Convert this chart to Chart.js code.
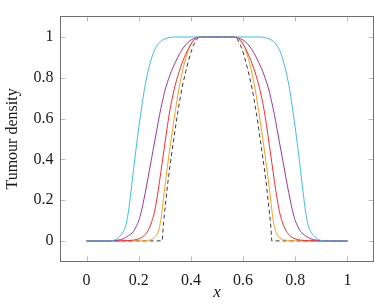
<!DOCTYPE html>
<html>
<head>
<meta charset="utf-8">
<script src="https://cdn.jsdelivr.net/npm/chart.js@4/dist/chart.umd.min.js"></script>
<style>
html,body{margin:0;padding:0;background:#fff;}
#wrap{width:374px;height:303px;}
</style>
</head>
<body>
<div id="wrap"><canvas id="c" width="374" height="303"></canvas></div>
<script>
// ---- data ----
const xTicks = [0, 0.2, 0.4, 0.6, 0.8, 1];
const yTicks = [0, 0.2, 0.4, 0.6, 0.8, 1];

const cyanX = [0, 0.08, 0.1, 0.12, 0.14, 0.15, 0.16, 0.17, 0.18, 0.19, 0.2, 0.21, 0.22, 0.23, 0.24, 0.25, 0.26, 0.275, 0.29, 0.31, 0.34, 0.5, 0.66, 0.69, 0.71, 0.725, 0.74, 0.75, 0.76, 0.77, 0.78, 0.79, 0.8, 0.81, 0.82, 0.83, 0.84, 0.85, 0.86, 0.88, 0.9, 0.92, 1];
const cyanY = [0, 0, 0.002, 0.015, 0.045, 0.075, 0.14, 0.24, 0.35, 0.455, 0.555, 0.645, 0.73, 0.8, 0.855, 0.9, 0.935, 0.967, 0.984, 0.995, 1, 1, 1, 0.995, 0.984, 0.967, 0.935, 0.9, 0.855, 0.8, 0.73, 0.645, 0.555, 0.455, 0.35, 0.24, 0.14, 0.075, 0.045, 0.015, 0.002, 0, 0];

const purpleX = [0, 0.08, 0.1, 0.12, 0.14, 0.16, 0.18, 0.19, 0.2, 0.21, 0.22, 0.23, 0.24, 0.25, 0.26, 0.27, 0.28, 0.29, 0.3, 0.32, 0.34, 0.36, 0.38, 0.4, 0.42, 0.44, 0.56, 0.58, 0.6, 0.62, 0.64, 0.66, 0.68, 0.7, 0.71, 0.72, 0.73, 0.74, 0.75, 0.76, 0.77, 0.78, 0.79, 0.8, 0.81, 0.82, 0.84, 0.86, 0.88, 0.9, 0.92, 1];
const purpleY = [0, 0, 0.001, 0.004, 0.01, 0.025, 0.047, 0.07, 0.1, 0.145, 0.205, 0.27, 0.34, 0.41, 0.48, 0.55, 0.62, 0.68, 0.735, 0.815, 0.875, 0.925, 0.962, 0.985, 0.996, 1, 1, 0.996, 0.985, 0.962, 0.925, 0.875, 0.815, 0.735, 0.68, 0.62, 0.55, 0.48, 0.41, 0.34, 0.27, 0.205, 0.145, 0.1, 0.07, 0.047, 0.025, 0.01, 0.004, 0.001, 0, 0];

const redX = [0, 0.12, 0.15, 0.18, 0.2, 0.22, 0.23, 0.24, 0.25, 0.26, 0.27, 0.28, 0.29, 0.3, 0.31, 0.32, 0.33, 0.34, 0.35, 0.36, 0.37, 0.38, 0.39, 0.4, 0.41, 0.42, 0.43, 0.57, 0.58, 0.59, 0.6, 0.61, 0.62, 0.63, 0.64, 0.65, 0.66, 0.67, 0.68, 0.69, 0.7, 0.71, 0.72, 0.73, 0.74, 0.75, 0.76, 0.77, 0.78, 0.8, 0.82, 0.85, 0.88, 1];
const redY = [0, 0, 0.001, 0.004, 0.01, 0.025, 0.04, 0.062, 0.095, 0.14, 0.21, 0.295, 0.385, 0.475, 0.565, 0.645, 0.71, 0.765, 0.81, 0.85, 0.885, 0.915, 0.942, 0.965, 0.982, 0.993, 1, 1, 0.993, 0.982, 0.965, 0.942, 0.915, 0.885, 0.85, 0.81, 0.765, 0.71, 0.645, 0.565, 0.475, 0.385, 0.295, 0.21, 0.14, 0.095, 0.062, 0.04, 0.025, 0.01, 0.004, 0.001, 0, 0];

const orangeX = [0, 0.18, 0.22, 0.24, 0.25, 0.26, 0.27, 0.275, 0.28, 0.285, 0.29, 0.295, 0.3, 0.31, 0.32, 0.33, 0.34, 0.35, 0.36, 0.37, 0.38, 0.39, 0.4, 0.41, 0.42, 0.43, 0.57, 0.58, 0.59, 0.6, 0.61, 0.62, 0.63, 0.64, 0.65, 0.66, 0.67, 0.68, 0.69, 0.7, 0.705, 0.71, 0.715, 0.72, 0.725, 0.73, 0.74, 0.75, 0.76, 0.78, 0.82, 1];
const orangeY = [0, 0, 0.001, 0.004, 0.008, 0.016, 0.032, 0.047, 0.07, 0.105, 0.155, 0.21, 0.265, 0.365, 0.46, 0.55, 0.635, 0.715, 0.785, 0.845, 0.895, 0.935, 0.965, 0.985, 0.996, 1, 1, 0.996, 0.985, 0.965, 0.935, 0.895, 0.845, 0.785, 0.715, 0.635, 0.55, 0.46, 0.365, 0.265, 0.21, 0.155, 0.105, 0.07, 0.047, 0.032, 0.016, 0.008, 0.004, 0.001, 0, 0];

const exactX = [0, 0.29, 0.295, 0.3, 0.31, 0.32, 0.33, 0.34, 0.35, 0.36, 0.37, 0.38, 0.39, 0.4, 0.41, 0.42, 0.43, 0.44, 0.56, 0.57, 0.58, 0.59, 0.6, 0.61, 0.62, 0.63, 0.64, 0.65, 0.66, 0.67, 0.68, 0.69, 0.7, 0.705, 0.71, 1];
const exactY = [0, 0, 0.09, 0.15, 0.27, 0.37, 0.46, 0.55, 0.635, 0.71, 0.775, 0.83, 0.88, 0.925, 0.96, 0.985, 0.997, 1, 1, 0.997, 0.985, 0.96, 0.925, 0.88, 0.83, 0.775, 0.71, 0.635, 0.55, 0.46, 0.37, 0.27, 0.15, 0.09, 0, 0];

function pts(xs, ys) { return xs.map((x, i) => ({ x: x, y: ys[i] })); }

const FONT = "'Liberation Serif', 'Times New Roman', serif";

const frame = {
  id: 'frame',
  beforeDatasetsDraw(chart) {
    const { ctx, chartArea: a, scales: { x, y } } = chart;
    ctx.save();
    ctx.strokeStyle = '#bdbdbd';
    ctx.lineWidth = 1;
    ctx.beginPath();
    const L = 5;
    xTicks.forEach(v => {
      const p = Math.round(x.getPixelForValue(v)) + 0.5;
      ctx.moveTo(p, a.bottom); ctx.lineTo(p, a.bottom - L);
      ctx.moveTo(p, a.top); ctx.lineTo(p, a.top + L);
    });
    yTicks.forEach(v => {
      const p = Math.round(y.getPixelForValue(v)) + 0.5;
      ctx.moveTo(a.left, p); ctx.lineTo(a.left + L, p);
      ctx.moveTo(a.right, p); ctx.lineTo(a.right - L, p);
    });
    ctx.stroke();
    ctx.restore();
  },
  afterDatasetsDraw(chart) {
    const { ctx, chartArea: a } = chart;
    ctx.save();
    ctx.strokeStyle = '#6e6e6e';
    ctx.lineWidth = 1;
    const l = Math.floor(a.left) + 0.5, t = Math.floor(a.top) + 0.5;
    const r = Math.floor(a.right) + 0.5, b = Math.floor(a.bottom) + 0.5;
    ctx.strokeRect(l, t, r - l, b - t);
    ctx.restore();
  }
};

const common = { pointRadius: 0, borderWidth: 1, fill: false, cubicInterpolationMode: 'monotone' };

new Chart(document.getElementById('c'), {
  type: 'line',
  data: {
    datasets: [
      Object.assign({ label: 'cyan', data: pts(cyanX, cyanY), borderColor: '#3cbdf0' }, common),
      Object.assign({ label: 'purple', data: pts(purpleX, purpleY), borderColor: '#9a35a3' }, common),
      Object.assign({ label: 'red', data: pts(redX, redY), borderColor: '#ff2a2a' }, common),
      Object.assign({ label: 'orange', data: pts(orangeX, orangeY), borderColor: '#ff9a1f' }, common),
      { label: 'exact', data: pts(exactX, exactY), borderColor: '#3a3a3a', borderWidth: 1, borderDash: [4, 3], pointRadius: 0, fill: false, tension: 0 }
    ]
  },
  options: {
    responsive: false,
    animation: false,
    events: [],
    layout: { padding: { left: 0, right: 0.5, top: 1.5, bottom: 0 } },
    plugins: { legend: { display: false }, tooltip: { enabled: false } },
    scales: {
      x: {
        type: 'linear', min: -0.1, max: 1.1,
        afterBuildTicks: s => { s.ticks = xTicks.map(v => ({ value: v })); },
        afterFit: s => { s.height = 41.7; },
        grid: { display: false, drawTicks: false },
        border: { display: false },
        ticks: { autoSkip: false, maxRotation: 0, padding: 10, color: '#1a1a1a', font: { family: FONT, size: 16 }, callback: v => String(v) },
        title: { display: true, text: 'x', color: '#1a1a1a', font: { family: FONT, size: 17, style: 'italic' }, padding: { top: 0, bottom: 0 } }
      },
      y: {
        type: 'linear', min: -0.1, max: 1.1,
        afterBuildTicks: s => { s.ticks = yTicks.map(v => ({ value: v })); },
        afterFit: s => { s.width = 60.5; },
        grid: { display: false, drawTicks: false },
        border: { display: false },
        ticks: { autoSkip: false, padding: 7, color: '#1a1a1a', font: { family: FONT, size: 16 }, callback: v => String(v) },
        title: { display: true, text: 'Tumour density', color: '#1a1a1a', font: { family: FONT, size: 16 }, padding: { top: 3, bottom: 0 } }
      }
    }
  },
  plugins: [frame]
});
</script>
</body>
</html>
